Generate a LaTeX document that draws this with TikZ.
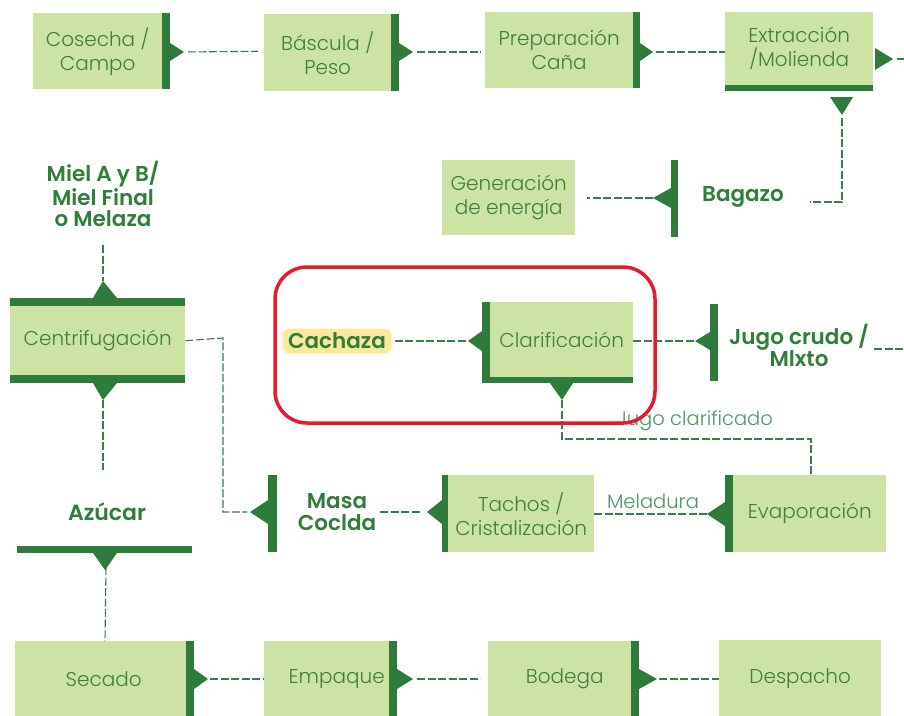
\documentclass[tikz,border=0pt]{standalone}
\usepackage{fontspec}
\setmainfont{Poppins}[BoldFont={Poppins SemiBold}]
\newfontfamily\lightf{Poppins Light}
\definecolor{lg}{HTML}{CDE3A4}
\definecolor{dg}{HTML}{2E7B3B}
\definecolor{tg}{HTML}{3F8040}
\definecolor{lbl}{HTML}{2F7F3A}
\definecolor{sub}{HTML}{4E9568}
\definecolor{fl}{HTML}{377F45}
\definecolor{redline}{HTML}{E8192C}
\definecolor{hl}{HTML}{FBE99A}
\begin{document}
\begin{tikzpicture}[x=1pt,y=-1pt,
  box/.style={fill=lg,inner sep=0pt,anchor=north west,text=tg,align=center,font=\lightf\fontsize{20}{24}\selectfont},
  lab/.style={text=lbl,align=center,inner sep=0pt,font=\fontsize{21.5}{22}\selectfont\bfseries},
  sublab/.style={text=sub,inner sep=0pt,font=\lightf\fontsize{19.5}{20}\selectfont},
  flow/.style={draw=fl,line width=1.1pt,dash pattern=on 8pt off 2.5pt},
  bar/.style={fill=dg},
]
\useasboundingbox (0,0) rectangle (904,715);
\fill[white] (0,0) rectangle (904,715);

% ---------- row 1
\node[box,minimum width=129pt,minimum height=76pt] (cos) at (33,13) {Cosecha /\\Campo};
\fill[bar] (162,13) rectangle (170,89);
\fill[bar] (170,43) -- (184,52) -- (170,61) -- cycle;
\coordinate (cosT) at (184,52);

\node[box,minimum width=127pt,minimum height=77pt] (bas) at (264,14) {Báscula /\\Peso};
\fill[bar] (391,14) rectangle (399,91);
\fill[bar] (399,43) -- (413,52) -- (399,61) -- cycle;
\coordinate (basT) at (413,52);

\node[box,minimum width=148pt,minimum height=76pt] (pre) at (485,12) {Preparación\\Caña};
\fill[bar] (633,12) rectangle (640,88);
\fill[bar] (640,43) -- (653,52) -- (640,61) -- cycle;
\coordinate (preT) at (653,52);

\node[box,minimum width=148pt,minimum height=73pt] (ext) at (725,12) {Extracción\\/Molienda};
\fill[bar] (725,85) rectangle (873,91);
\fill[bar] (875,48) -- (893,59) -- (875,70) -- cycle;
\coordinate (extT) at (893,59);
\coordinate (extE) at (904,59);
\fill[bar] (830,97) -- (853,97) -- (842,115) -- cycle;
\coordinate (extD) at (842,115);

\draw[flow,shorten <=4pt,shorten >=6pt] (cosT) -- (cos.east -| bas.west);
\draw[flow,shorten <=4pt,shorten >=4pt] (basT) -- (basT -| pre.west);
\draw[flow,shorten <=3pt] (preT) -- (preT -| ext.west);
\draw[flow,shorten <=4pt] (extT) -- (extE);

% ---------- Bagazo
\node[lab] (bag) at (743,197) {Bagazo};
\fill[bar] (671,160) rectangle (678,237);
\fill[bar] (671,188) -- (653,198) -- (671,208) -- cycle;
\coordinate (bagT) at (653,198);
\coordinate (bagC) at (842,202);
\draw[flow,shorten <=3pt] (extD) -- (bagC) -- ([xshift=26pt]bag.east |- bagC);

\node[box,minimum width=133pt,minimum height=75pt] (gen) at (442,160) {Generación\\de energía};
\draw[flow,shorten >=12pt] (bagT) -- (bagT -| gen.east);

% ---------- Miel / Centrifugacion
\node[lab,font=\fontsize{21.5}{21}\selectfont\bfseries] (miel) at (103,194) {Miel A y B/\\Miel Final\\o Melaza};
\fill[bar] (10,298) rectangle (185,306);
\node[box,minimum width=175pt,minimum height=69pt] (cen) at (10,306) {Centrifugación};
\fill[bar] (10,375) rectangle (185,383);
\fill[bar] (93,298) -- (103,281) -- (117,298) -- cycle;
\fill[bar] (93,383) -- (117,383) -- (103,400) -- cycle;
\coordinate (cenU) at (103,281);
\coordinate (cenD) at (103,400);
\draw[flow] (miel.south |- 0,245) -- (cenU);

% ---------- Azucar
\node[lab,font=\fontsize{22}{22}\selectfont\bfseries] (azu) at (107,512) {Azúcar};
\fill[bar] (17,546) rectangle (192,553);
\fill[bar] (93,553) -- (117,553) -- (105,570) -- cycle;
\coordinate (azuD) at (105,570);
\draw[flow] (cenD) -- (cenD |- 0,470);

% ---------- Masa cocida
\fill[bar] (268,475) rectangle (277,552);
\fill[bar] (268,500) -- (250,512) -- (268,524) -- cycle;
\coordinate (masT) at (250,512);
\node[lab] (mas) at (337,512) {Masa\\Coclda};
\coordinate (cenR) at (223,338);
\draw[flow,shorten >=3pt] (cen.east) -- (cenR) -- (cenR |- masT) -- (masT);

% ---------- Tachos
\fill[bar] (442,475) rectangle (448,552);
\node[box,minimum width=146pt,minimum height=77pt] (tac) at (448,475) {Tachos /\\Cristalización};
\fill[bar] (442,500) -- (427,512) -- (442,524) -- cycle;
\coordinate (tacT) at (427,512);
\draw[flow,shorten <=4pt,shorten >=6pt] (mas.east |- tacT) -- (tacT);

% ---------- Evaporacion
\fill[bar] (725,475) rectangle (733,552);
\node[box,minimum width=153pt,minimum height=77pt] (eva) at (733,475) {Evaporación};
\fill[bar] (725,502) -- (707,514) -- (725,526) -- cycle;
\coordinate (evaT) at (707,514);
\draw[flow] (evaT -| tac.east) -- (evaT);
\node[sublab] (mel) at (653,501) {Meladura};

% ---------- Clarificacion
\fill[bar] (482,302) rectangle (490,383);
\node[box,minimum width=143pt,minimum height=75pt] (cla) at (490,302) {Clarificación};
\fill[bar] (482,377) rectangle (633,383);
\fill[bar] (482,331) -- (468,341) -- (482,351) -- cycle;
\fill[bar] (550,383) -- (573,383) -- (562,400) -- cycle;
\coordinate (claT) at (468,341);
\coordinate (claD) at (562,400);
\coordinate (eK) at (811,439);
\draw[flow] (claD) -- (claD |- eK) -- (eK) -- (eK |- eva.north);
\node[sublab] (jcl) at (695,421) {Jugo clarificado};

% ---------- Jugo crudo
\fill[bar] (710,304) rectangle (718,381);
\fill[bar] (710,332) -- (695,341) -- (710,350) -- cycle;
\coordinate (jcrT) at (695,341);
\node[lab] (jcr) at (799,345) {Jugo crudo /\\Mlxto};
\coordinate (jcrE) at (904,349);
\draw[flow] (jcrE -| jcr.east) ++(5pt,0) -- (jcrE);
\draw[flow] (claT -| cla.east) -- (jcrT);

% ---------- Cachaza
\node[lab,fill=hl,rounded corners=7pt,minimum width=109pt,minimum height=25pt] (cac) at (337,341) {Cachaza};
\draw[flow,shorten <=3pt] (cac.east) -- (claT);

% ---------- highlight frame
\draw[redline,line width=3.5pt,rounded corners=32pt] (275,267) rectangle (655,423);

% ---------- bottom row
\node[box,minimum width=171pt,minimum height=76pt] (sec) at (15,641) {\hspace*{6pt}Secado};
\fill[bar] (186,641) rectangle (194,717);
\fill[bar] (194,669) -- (208,679) -- (194,689) -- cycle;
\coordinate (secT) at (208,679);
\draw[flow] (azuD) ++(1pt,3pt) -- (azuD |- sec.north);

\node[box,minimum width=125pt,minimum height=76pt] (emp) at (264,641) {\raisebox{-5pt}{\hspace*{20pt}Empaque}};
\fill[bar] (389,641) rectangle (397,717);
\fill[bar] (397,669) -- (413,679) -- (397,689) -- cycle;
\coordinate (empT) at (413,679);

\node[box,minimum width=143pt,minimum height=76pt] (bod) at (488,641) {\hspace*{10pt}Bodega};
\fill[bar] (631,641) rectangle (639,717);
\fill[bar] (639,669) -- (657,679) -- (639,689) -- cycle;
\coordinate (bodT) at (657,679);

\node[box,minimum width=162pt,minimum height=77pt] (des) at (719,640) {Despacho};

\draw[flow,shorten <=2pt] (secT) -- (secT -| emp.west);
\draw[flow,shorten <=4pt,shorten >=8pt] (empT) -- (empT -| bod.west);
\draw[flow,shorten <=2pt] (bodT) -- (bodT -| des.west);
\end{tikzpicture}
\end{document}
